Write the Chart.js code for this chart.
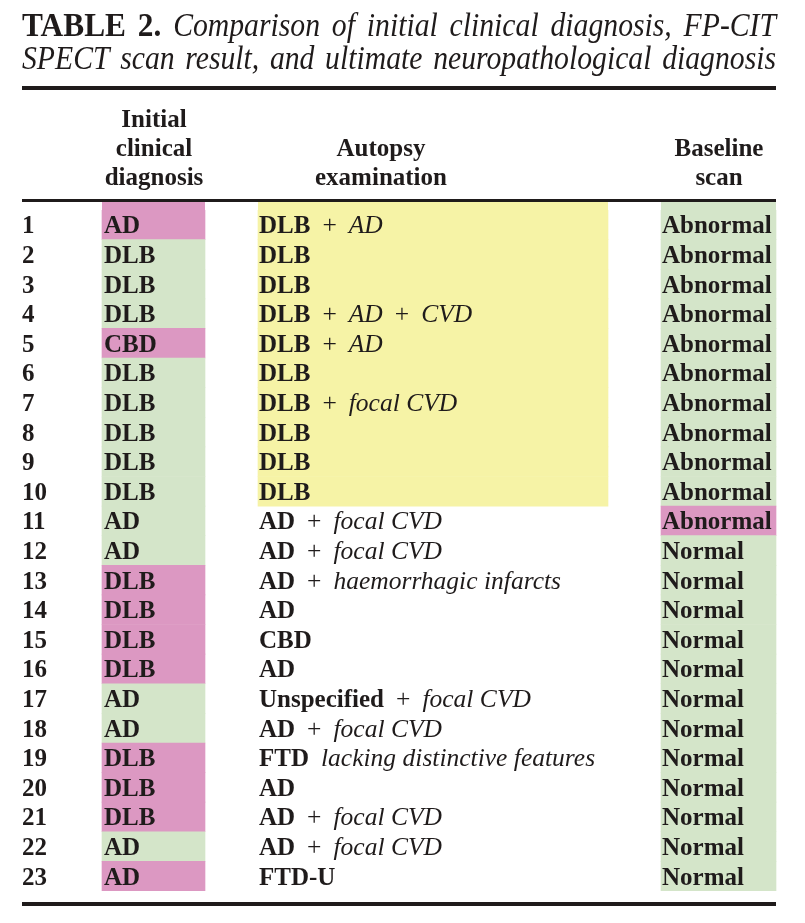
<!DOCTYPE html>
<html>
<head>
<meta charset="utf-8">
<script src="https://cdn.jsdelivr.net/npm/chart.js@4"></script>
<style>
  html, body { margin: 0; padding: 0; background: #fff; }
  canvas { display: block; }
</style>
</head>
<body>
<canvas id="tableChart" width="805" height="923"></canvas>
<script>
// table rows (one per patient)
const patients = ["1", "2", "3", "4", "5", "6", "7", "8", "9", "10", "11", "12",
  "13", "14", "15", "16", "17", "18", "19", "20", "21", "22", "23"];
const clinicalDiagnosis = ["AD", "DLB", "DLB", "DLB", "CBD", "DLB", "DLB", "DLB", "DLB", "DLB", "AD", "AD",
  "DLB", "DLB", "DLB", "DLB", "AD", "AD", "DLB", "DLB", "DLB", "AD", "AD"];
const clinicalCorrect = [false, true, true, true, false, true, true, true, true, true, true, true,
  false, false, false, false, true, true, false, false, false, true, false];
const autopsyPrimary = ["DLB", "DLB", "DLB", "DLB", "DLB", "DLB", "DLB", "DLB", "DLB", "DLB", "AD", "AD",
  "AD", "AD", "CBD", "AD", "Unspecified", "AD", "FTD", "AD", "AD", "AD", "FTD-U"];
const autopsySecondary = ["+ AD", "", "", "+ AD + CVD", "+ AD", "", "+ focal CVD", "", "", "", "+ focal CVD", "+ focal CVD",
  "+ haemorrhagic infarcts", "", "", "", "+ focal CVD", "+ focal CVD", "lacking distinctive features", "", "+ focal CVD", "+ focal CVD", ""];
const scanResult = ["Abnormal", "Abnormal", "Abnormal", "Abnormal", "Abnormal", "Abnormal", "Abnormal", "Abnormal", "Abnormal", "Abnormal", "Abnormal", "Normal",
  "Normal", "Normal", "Normal", "Normal", "Normal", "Normal", "Normal", "Normal", "Normal", "Normal", "Normal"];
const scanCorrect = [true, true, true, true, true, true, true, true, true, true, false, true,
  true, true, true, true, true, true, true, true, true, true, true];

const titleLines = [
  ["TABLE 2.", "Comparison of initial clinical diagnosis, FP-CIT"],
  ["", "SPECT scan result, and ultimate neuropathological diagnosis"],
];
const headers = [
  ["Initial", "clinical", "diagnosis"],
  ["Autopsy", "examination"],
  ["Baseline", "scan"],
];

const PINK = "#dc98c2";
const GREEN = "#d4e5c9";
const YELLOW = "#f6f3a6";
const INK = "#1f1b1b";
const SERIF = '"Liberation Serif", "Times New Roman", serif';

// layout of the columns on the x scale (canvas units)
const columns = {
  number: { text: 22 },
  clinical: { from: 102, to: 205, text: 104, mid: 154 },
  autopsy: { from: 258, to: 608, text: 259, mid: 381 },
  scan: { from: 661, to: 776, text: 662, mid: 719 },
};
const ruleLeft = 22;
const ruleRight = 776;

const span = (col) => [col.from, col.to];

// bold primary finding, upright "+", italic qualifiers; wider gaps round the first break and "+"
const autopsyRuns = (i) => {
  const runs = [{ text: autopsyPrimary[i], font: "bold 25px " + SERIF }];
  if (autopsySecondary[i]) {
    let prev = "+";
    autopsySecondary[i].split(" ").forEach((word) => {
      const wide = prev === "+" || word === "+" || runs.length === 1;
      runs.push({ gap: wide ? 12 : 6.5 });
      runs.push({ text: word, font: (word === "+" ? "" : "italic ") + "25.5px " + SERIF });
      prev = word;
    });
  }
  return runs;
};

const drawRuns = (ctx, runs, x, y) => {
  runs.forEach((r) => {
    if (r.gap) {
      x += r.gap;
      return;
    }
    ctx.font = r.font;
    ctx.fillText(r.text, x, y);
    x += ctx.measureText(r.text).width;
  });
};

// justified, slightly condensed title line: bold lead words, italic rest
const drawJustified = (ctx, lead, rest, y) => {
  const words = [];
  lead.split(" ").filter(Boolean).forEach((w) => words.push({ text: w, font: "bold 33px " + SERIF, sx: 0.95 }));
  rest.split(" ").forEach((w) => words.push({ text: w, font: "italic 33px " + SERIF, sx: 0.9 }));
  let total = 0;
  words.forEach((w) => {
    ctx.font = w.font;
    w.width = ctx.measureText(w.text).width * w.sx;
    total += w.width;
  });
  const gap = (ruleRight - ruleLeft - total) / (words.length - 1);
  let x = ruleLeft;
  words.forEach((w) => {
    ctx.save();
    ctx.font = w.font;
    ctx.translate(x, y);
    ctx.scale(w.sx, 1);
    ctx.fillText(w.text, 0, 0);
    ctx.restore();
    x += w.width + gap;
  });
};

const rule = (ctx, y, h) => {
  ctx.fillStyle = INK;
  ctx.fillRect(ruleLeft, y, ruleRight - ruleLeft, h);
};

const tableTextPlugin = {
  id: "tableText",
  beforeDatasetsDraw(chart) {
    // first row cells run up to the header rule
    const ctx = chart.ctx;
    chart.data.datasets.forEach((ds, d) => {
      if (ds.data[0] == null) return;
      const el = chart.getDatasetMeta(d).data[0];
      const top = el.y - el.height / 2;
      ctx.fillStyle = Array.isArray(ds.backgroundColor) ? ds.backgroundColor[0] : ds.backgroundColor;
      ctx.fillRect(Math.min(el.x, el.base), 202, Math.abs(el.x - el.base), top - 202 + 1);
    });
  },
  afterDraw(chart) {
    const ctx = chart.ctx;
    const yScale = chart.scales.y;
    ctx.save();
    ctx.fillStyle = INK;
    ctx.textBaseline = "alphabetic";

    ctx.textAlign = "left";
    drawJustified(ctx, titleLines[0][0], titleLines[0][1], 36);
    drawJustified(ctx, titleLines[1][0], titleLines[1][1], 69);

    rule(ctx, 86, 4);
    rule(ctx, 199, 3);
    rule(ctx, 902, 4);

    // column headers, bottom aligned
    ctx.fillStyle = INK;
    ctx.textAlign = "center";
    ctx.font = "bold 25px " + SERIF;
    const mids = [columns.clinical.mid, columns.autopsy.mid, columns.scan.mid];
    headers.forEach((lines, c) => {
      lines.forEach((line, k) => {
        const y = 185 - (lines.length - 1 - k) * 29;
        ctx.fillText(line, mids[c], y);
      });
    });

    ctx.textAlign = "left";
    patients.forEach((p, i) => {
      const y = yScale.getPixelForValue(i) + 8.5;
      ctx.font = "bold 25px " + SERIF;
      ctx.fillText(p, columns.number.text, y);
      ctx.fillText(clinicalDiagnosis[i], columns.clinical.text, y);
      ctx.fillText(scanResult[i], columns.scan.text, y);
      drawRuns(ctx, autopsyRuns(i), columns.autopsy.text, y);
    });
    ctx.restore();
  },
};

const ctx = document.getElementById("tableChart").getContext("2d");
const tableChart = new Chart(ctx, {
  type: "bar",
  data: {
    labels: patients,
    datasets: [
      {
        label: "Initial clinical diagnosis",
        data: patients.map(() => span(columns.clinical)),
        backgroundColor: clinicalCorrect.map((ok) => (ok ? GREEN : PINK)),
      },
      {
        label: "Autopsy examination",
        data: autopsyPrimary.map((d) => (d === "DLB" ? span(columns.autopsy) : null)),
        backgroundColor: YELLOW,
      },
      {
        label: "Baseline scan",
        data: patients.map(() => span(columns.scan)),
        backgroundColor: scanCorrect.map((ok) => (ok ? GREEN : PINK)),
      },
    ],
  },
  options: {
    indexAxis: "y",
    responsive: false,
    animation: false,
    layout: { padding: { top: 210, bottom: 32, left: 0, right: 0 } },
    datasets: {
      bar: { grouped: false, barPercentage: 1, categoryPercentage: 1, borderWidth: 0 },
    },
    scales: {
      x: { type: "linear", min: 0, max: 805, display: false },
      y: { display: false },
    },
    plugins: {
      legend: { display: false },
      title: { display: false },
      tooltip: { enabled: false },
    },
  },
  plugins: [tableTextPlugin],
});
</script>
</body>
</html>
